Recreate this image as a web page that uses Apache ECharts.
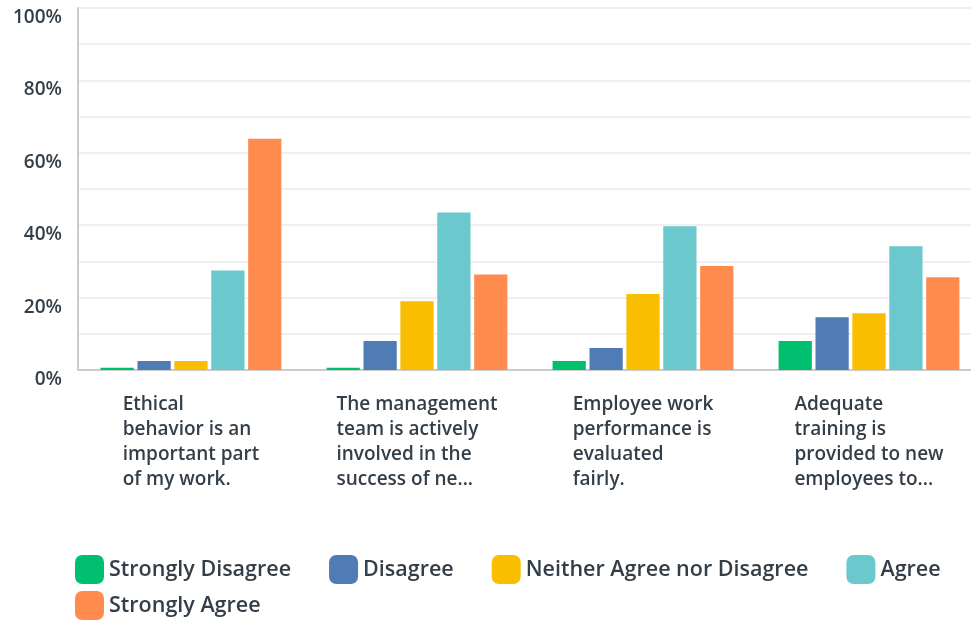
<!DOCTYPE html>
<html>
<head>
<meta charset="utf-8">
<script src="https://cdn.jsdelivr.net/npm/echarts@6/dist/echarts.min.js"></script>
<style>
  html, body { margin: 0; padding: 0; background: #fff; }
  #chart { width: 971px; height: 620px; }
</style>
</head>
<body>
<div id="chart"></div>
<script>
// Survey statements (question text is truncated the way the report shows it)
const categories = [
  'Ethical\nbehavior is an\nimportant part\nof my work.',
  'The management\nteam is actively\ninvolved in the\nsuccess of ne...',
  'Employee work\nperformance is\nevaluated\nfairly.',
  'Adequate\ntraining is\nprovided to new\nemployees to...'
];

const answerNames = [
  'Strongly Disagree',
  'Disagree',
  'Neither Agree nor Disagree',
  'Agree',
  'Strongly Agree'
];

// Share of respondents (%) per statement
const stronglyDisagree = [0.6, 0.6, 2.5, 8.0];
const disagree         = [2.5, 8.0, 6.1, 14.6];
const neither          = [2.5, 19.0, 21.0, 15.7];
const agree            = [27.5, 43.5, 39.7, 34.2];
const stronglyAgree    = [63.9, 26.4, 28.7, 25.6];

const yTicks = [0, 20, 40, 60, 80, 100];

const answerColors = ['#00BF6F', '#507CB6', '#F9BE00', '#6BC8CD', '#FF8B4F'];
const answerValues = [stronglyDisagree, disagree, neither, agree, stronglyAgree];

const textColor = '#333E48';
const fontFamily = '"Open Sans", Roboto, sans-serif';

const legendText = {
  fontFamily: fontFamily,
  fontSize: 21.5,
  fontWeight: 600,
  color: textColor
};

const chart = echarts.init(document.getElementById('chart'), null, { renderer: 'canvas' });

chart.setOption({
  animation: false,
  color: answerColors,
  textStyle: { fontFamily: fontFamily, color: textColor },
  // The plot runs a little past the right edge of the canvas
  grid: {
    left: 78, top: 8, width: 904, bottom: 250,
    containLabel: false,
    outerBoundsMode: 'none'
  },
  // Two legend rows: the last answer sits on its own line below
  legend: [
    {
      left: 75,
      top: 555,
      padding: 0,
      itemWidth: 29,
      itemHeight: 29,
      itemGap: 38,
      icon: 'roundRect',
      textStyle: legendText,
      data: answerNames.slice(0, 4)
    },
    {
      left: 75,
      top: 591,
      padding: 0,
      itemWidth: 29,
      itemHeight: 29,
      icon: 'roundRect',
      textStyle: legendText,
      data: answerNames.slice(4)
    }
  ],
  xAxis: {
    type: 'category',
    data: categories,
    axisLine: { show: true, lineStyle: { color: '#CCCCCC', width: 2 } },
    axisTick: { show: false },
    axisLabel: {
      interval: 0,
      margin: 22,
      align: 'center',
      formatter: function (v) {
        return v.split('\n').map(function (l) { return '{t|' + l + '}'; }).join('\n');
      },
      rich: {
        t: {
          align: 'left',
          fontFamily: fontFamily,
          fontSize: 19,
          fontWeight: 600,
          lineHeight: 25,
          color: textColor
        }
      }
    }
  },
  yAxis: {
    type: 'value',
    min: 0,
    max: 100,
    interval: 10,
    axisLine: { show: true, lineStyle: { color: '#CCCCCC', width: 2 } },
    axisTick: { show: false },
    splitLine: { show: true, lineStyle: { color: '#EFEFEF', width: 2 } },
    axisLabel: {
      margin: 16,
      verticalAlign: 'top',
      fontFamily: fontFamily,
      fontSize: 19,
      fontWeight: 600,
      color: textColor,
      formatter: function (v) {
        return yTicks.indexOf(v) >= 0 ? v + '%' : '';
      }
    }
  },
  series: answerNames.map(function (name, i) {
    return {
      name: name,
      type: 'bar',
      data: answerValues[i],
      barGap: '11%',
      barCategoryGap: '20%',
      itemStyle: { color: answerColors[i] }
    };
  })
});
</script>
</body>
</html>
